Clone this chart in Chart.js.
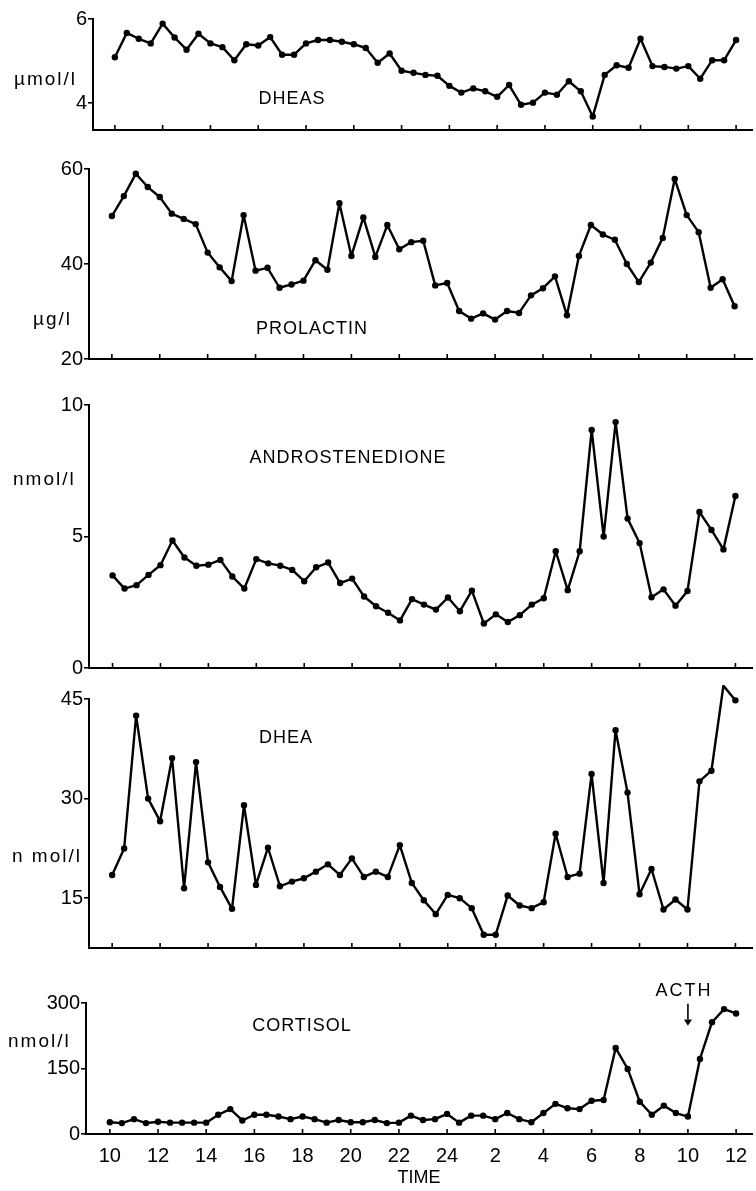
<!DOCTYPE html>
<html>
<head>
<meta charset="utf-8">
<script src="https://cdn.jsdelivr.net/npm/chart.js@4.4.1/dist/chart.umd.min.js"></script>
<style>
  body { margin: 0; background: #fff; width: 756px; height: 1191px; position: relative; overflow: hidden; font-family: 'Liberation Sans', Arial, sans-serif; color: #000; }
  .wrap { position: absolute; left: 0; }
  .lbl { position: absolute; white-space: nowrap; font-size: 18px; line-height: 1; transform: translateY(-50%); }
  .name { transform: translate(-50%, -50%); letter-spacing: 1px; }
  .unit { font-size: 19px; letter-spacing: 2px; }
</style>
</head>
<body>

<script>
// sampling times, hours after 10:00 (every 30 min, 10:00 -> 12:00 next day)
const times = ['10:00','10:30','11:00','11:30','12:00','12:30','13:00','13:30','14:00','14:30','15:00','15:30','16:00','16:30','17:00','17:30','18:00','18:30','19:00','19:30','20:00','20:30','21:00','21:30','22:00','22:30','23:00','23:30','24:00','0:30','1:00','1:30','2:00','2:30','3:00','3:30','4:00','4:30','5:00','5:30','6:00','6:30','7:00','7:30','8:00','8:30','9:00','9:30','10:00','10:30','11:00','11:30','12:00'];
const hours = [0,0.5,1,1.5,2,2.5,3,3.5,4,4.5,5,5.5,6,6.5,7,7.5,8,8.5,9,9.5,10,10.5,11,11.5,12,12.5,13,13.5,14,14.5,15,15.5,16,16.5,17,17.5,18,18.5,19,19.5,20,20.5,21,21.5,22,22.5,23,23.5,24,24.5,25,25.5,26];
const tickHours = [0,2,4,6,8,10,12,14,16,18,20,22,24,26];
const tickLabels = ['10','12','14','16','18','20','22','24','2','4','6','8','10','12'];

// µmol/l
const dheas = [5.09,5.67,5.53,5.42,5.89,5.56,5.27,5.65,5.42,5.33,5.02,5.40,5.37,5.57,5.15,5.15,5.42,5.50,5.50,5.46,5.40,5.31,4.96,
  5.18,4.77,4.72,4.67,4.65,4.41,4.25,4.35,4.28,4.15,4.43,3.96,4.01,4.25,4.20,4.52,4.28,3.68,4.67,4.90,4.84,5.53,4.88,4.86,4.82,4.88,4.58,5.02,5.02,5.50];
// µg/l
const prolactin = [50.1,54.3,59.0,56.2,54.1,50.6,49.5,48.4,42.4,39.3,36.4,50.3,38.6,39.2,35.0,35.7,36.5,40.8,38.8,52.8,41.7,49.8,41.5,
  48.2,43.1,44.6,44.9,35.5,36.0,30.1,28.5,29.6,28.3,30.1,29.7,33.4,34.9,37.4,29.2,41.7,48.2,46.2,45.1,40.0,36.2,40.3,45.5,57.9,50.3,46.7,35.0,36.8,31.1];
// nmol/l
const androstenedione = [3.52,3.02,3.15,3.54,3.91,4.85,4.20,3.89,3.93,4.11,3.48,3.02,4.14,3.98,3.89,3.73,3.30,3.83,4.01,3.23,3.40,2.72,2.35,
  2.10,1.81,2.62,2.41,2.22,2.68,2.16,2.94,1.69,2.04,1.75,2.01,2.41,2.65,4.44,2.96,4.44,9.05,5.00,9.35,5.68,4.75,2.69,2.99,2.37,2.93,5.93,5.25,4.51,6.54];
// nmol/l
const dhea = [18.5,22.5,42.5,30.0,26.6,36.1,16.5,35.5,20.4,16.7,13.4,29.0,17.0,22.6,16.8,17.5,18.0,19.0,20.1,18.5,21.0,18.2,19.0,
  18.2,23.0,17.3,14.7,12.6,15.5,15.0,13.5,9.5,9.5,15.4,13.9,13.5,14.4,24.7,18.2,18.7,33.7,17.3,40.3,30.9,15.6,19.4,13.3,14.8,13.3,32.6,34.2,47.0,44.8];
// nmol/l
const cortisol = [27,25,34,25,28,26,26,26,26,44,57,31,44,44,40,34,40,34,26,32,27,27,32,
  25,26,42,32,34,46,26,42,42,34,48,34,27,48,69,59,57,76,78,197,149,74,44,65,48,40,172,256,286,276];

const dheasTicks = [4, 6];
const prolactinTicks = [20, 40, 60];
const androTicks = [0, 5, 10];
const dheaTicks = [15, 30, 45];
const cortisolTicks = [0, 150, 300];
const acthHour = 24;

const panels = [
  { name: 'DHEAS', unit: 'µmol/l', values: dheas, yTicks: dheasTicks, min: 3.36, max: 6,
    top: 19, bottom: 137, axisX: 93, first: 115, last: 740, unitX: 14, unitY: 78, nameX: 292, nameY: 98 },
  { name: 'PROLACTIN', unit: 'µg/l', values: prolactin, yTicks: prolactinTicks, min: 20, max: 60,
    top: 169, bottom: 366, axisX: 89, first: 112, last: 738.5, unitX: 33, unitY: 318, nameX: 312, nameY: 328 },
  { name: 'ANDROSTENEDIONE', unit: 'nmol/l', values: androstenedione, yTicks: androTicks, min: 0, max: 10,
    top: 405, bottom: 675, axisX: 89, first: 112.7, last: 739.3, unitX: 13, unitY: 478, nameX: 348, nameY: 457 },
  { name: 'DHEA', unit: 'n mol/l', values: dhea, yTicks: dheaTicks, min: 7.5, max: 45,
    top: 699.3, bottom: 955.5, axisX: 89, first: 112.3, last: 739.3, unitX: 12, unitY: 855, nameX: 286, nameY: 737 },
  { name: 'CORTISOL', unit: 'nmol/l', values: cortisol, yTicks: cortisolTicks, min: 0, max: 300,
    top: 1003.3, bottom: 1134, axisX: 86, first: 110, last: 740, unitX: 8, unitY: 1040, nameX: 302, nameY: 1025 }
];

const tickFont = { family: "'Liberation Sans', Arial, sans-serif", size: 20 };

// x ticks of the figure point up into the plot
const innerTicks = {
  id: 'innerTicks',
  afterDraw(chart) {
    const x = chart.scales.x, ctx = chart.ctx, b = chart.chartArea.bottom;
    ctx.save();
    ctx.strokeStyle = '#000';
    ctx.lineWidth = 1.6;
    tickHours.forEach(h => {
      const px = x.getPixelForValue(h);
      ctx.beginPath();
      ctx.moveTo(px, b);
      ctx.lineTo(px, b - 5);
      ctx.stroke();
    });
    ctx.restore();
  }
};

const acthArrow = {
  id: 'acthArrow',
  afterDatasetsDraw(chart) {
    if (chart.canvas.id !== 'CORTISOL') return;
    const ctx = chart.ctx;
    const px = chart.scales.x.getPixelForValue(acthHour);
    const y0 = chart.scales.y.getPixelForValue(298);
    const y1 = chart.scales.y.getPixelForValue(262);
    const y2 = chart.scales.y.getPixelForValue(248);
    ctx.save();
    ctx.strokeStyle = '#000';
    ctx.fillStyle = '#000';
    ctx.lineWidth = 1.6;
    ctx.beginPath();
    ctx.moveTo(px, y0);
    ctx.lineTo(px, y1);
    ctx.stroke();
    ctx.beginPath();
    ctx.moveTo(px - 4, y1);
    ctx.lineTo(px + 4, y1);
    ctx.lineTo(px, y2);
    ctx.closePath();
    ctx.fill();
    ctx.restore();
  }
};

panels.forEach((p, i) => {
  const isLast = i === panels.length - 1;
  const padTop = i === 0 ? p.top : 14;
  const padBottom = isLast ? 0 : 6;
  const xh = isLast ? 56 : 0;
  const height = Math.round(p.bottom - p.top + padTop + padBottom + xh);
  const wrap = document.createElement('div');
  wrap.className = 'wrap';
  wrap.style.top = (p.top - padTop) + 'px';
  wrap.style.width = '756px';
  wrap.style.height = height + 'px';
  const canvas = document.createElement('canvas');
  canvas.id = p.name;
  canvas.width = 756;
  canvas.height = height;
  wrap.appendChild(canvas);
  document.body.appendChild(wrap);

  const pxh = (p.last - p.first) / 26;

  new Chart(canvas, {
    type: 'line',
    data: {
      labels: times,
      datasets: [{
        data: hours.map((h, k) => ({ x: h, y: p.values[k] })),
        borderColor: '#000',
        backgroundColor: '#000',
        borderWidth: 2.4,
        borderJoinStyle: 'round',
        borderCapStyle: 'round',
        pointRadius: 3.2,
        pointBackgroundColor: '#000',
        pointBorderWidth: 0,
        tension: 0,
        clip: false
      }]
    },
    options: {
      responsive: false,
      animation: false,
      events: [],
      layout: { padding: { top: padTop, bottom: padBottom, left: 0, right: 0 } },
      plugins: { legend: { display: false }, tooltip: { enabled: false } },
      scales: {
        x: {
          type: 'linear',
          min: -(p.first - p.axisX) / pxh,
          max: 26 + (756 - p.last) / pxh,
          afterFit: s => { s.height = xh; },
          afterBuildTicks: s => { s.ticks = tickHours.map(v => ({ value: v })); },
          grid: { display: false },
          border: { display: true, color: '#000', width: 2 },
          ticks: {
            display: isLast,
            autoSkip: false,
            maxRotation: 0,
            padding: 2,
            color: '#000',
            font: tickFont,
            callback: (v, idx) => tickLabels[idx]
          },
          title: {
            display: isLast,
            text: 'TIME',
            color: '#000',
            font: { family: "'Liberation Sans', Arial, sans-serif", size: 18 },
            padding: { top: 0, bottom: 1 }
          }
        },
        y: {
          min: p.min,
          max: p.max,
          afterFit: s => { s.width = p.axisX; },
          afterBuildTicks: s => { s.ticks = p.yTicks.map(v => ({ value: v })); },
          grid: { drawOnChartArea: false, drawTicks: true, tickLength: 5, color: '#000', lineWidth: 1.6 },
          border: { display: true, color: '#000', width: 2 },
          ticks: { color: '#000', font: tickFont, padding: 1 }
        }
      }
    },
    plugins: [innerTicks, acthArrow]
  });

  const u = document.createElement('div');
  u.className = 'lbl unit';
  u.style.left = p.unitX + 'px';
  u.style.top = p.unitY + 'px';
  u.textContent = p.unit;
  document.body.appendChild(u);

  const n = document.createElement('div');
  n.className = 'lbl name';
  n.style.left = p.nameX + 'px';
  n.style.top = p.nameY + 'px';
  n.textContent = p.name;
  document.body.appendChild(n);
});

const acth = document.createElement('div');
acth.className = 'lbl name';
acth.style.left = '684px';
acth.style.top = '990px';
acth.style.letterSpacing = '2px';
acth.textContent = 'ACTH';
document.body.appendChild(acth);
</script>
</body>
</html>
